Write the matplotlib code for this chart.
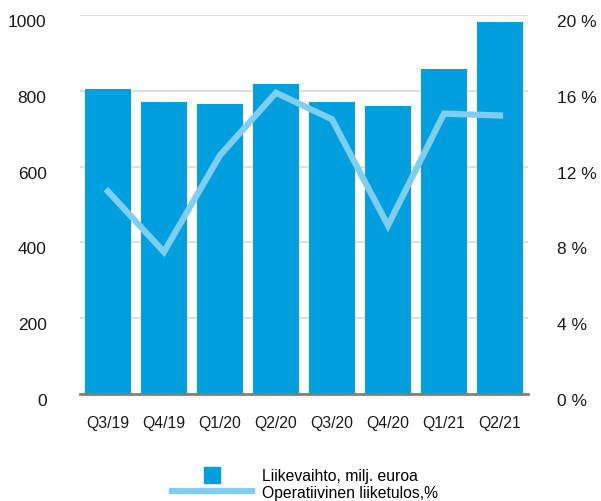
import matplotlib
matplotlib.use("Agg")
import matplotlib.pyplot as plt
from matplotlib.lines import Line2D
from matplotlib.transforms import ScaledTranslation

plt.rcParams['font.family'] = ['Liberation Sans', 'DejaVu Sans']

quarters = ["Q3/19", "Q4/19", "Q1/20", "Q2/20", "Q3/20", "Q4/20", "Q1/21", "Q2/21"]
revenue = [805, 770, 765, 818, 770, 760, 859, 982]
margin_pct = [10.7, 7.5, 12.6, 15.9, 14.5, 8.9, 14.8, 14.7]
left_ticks = [0, 200, 400, 600, 800, 1000]
right_ticks = [0, 4, 8, 12, 16, 20]

bar_color = "#009FDF"
line_color = "#80CEEF"
text_color = "#1a1a1a"

fig = plt.figure(figsize=(6.01, 5.02), dpi=100)
ax = fig.add_axes([0.133, 0.213, 0.7455, 0.755])
ax2 = ax.twinx()

x = list(range(len(quarters)))
ax.bar(x, revenue, width=0.82, color=bar_color, zorder=2)
ax.set_ylim(0, 1000)
ax.set_xlim(-0.5, len(quarters) - 0.5)
ax.set_yticks(left_ticks)
ax.set_yticklabels([str(v) for v in left_ticks])
ax.yaxis.grid(True, color="#D9D9D9", linewidth=1.2, zorder=0)
ax.set_axisbelow(True)
ax.set_xticks(x)
ax.set_xticklabels(quarters, fontsize=11.3)
ax.tick_params(axis='x', length=0, pad=15, colors=text_color)
ax.tick_params(axis='y', length=0, pad=24, labelsize=12.5, colors=text_color)
for s in ["top", "right", "left"]:
    ax.spines[s].set_visible(False)
ax.spines["bottom"].set_color("#808080")
ax.spines["bottom"].set_linewidth(2)
ax.spines["bottom"].set_zorder(5)

ax2.plot(x, margin_pct, color=line_color, linewidth=4.5, solid_joinstyle='miter', zorder=3)
ax2.set_ylim(0, 20)
ax2.set_yticks(right_ticks)
ax2.set_yticklabels([f"{v} %" for v in right_ticks])
ax2.tick_params(axis='y', length=0, pad=21, labelsize=12.5, colors=text_color)
for s in ["top", "right", "left", "bottom"]:
    ax2.spines[s].set_visible(False)

shift = ScaledTranslation(0, -3.5 / 72, fig.dpi_scale_trans)
for lab in ax.get_yticklabels() + ax2.get_yticklabels():
    lab.set_transform(lab.get_transform() + shift)

handles = [
    Line2D([], [], marker='s', linestyle='none', markersize=12.2, color=bar_color),
    Line2D([], [], color=line_color, linewidth=4.5),
]
labels = ["Liikevaihto, milj. euroa", "Operatiivinen liiketulos,%"]
fig.legend(handles, labels, loc='upper left', bbox_to_anchor=(0.276, 0.078),
           frameon=False, fontsize=11.3, handlelength=5.1, handletextpad=0.64,
           labelspacing=0.1, borderaxespad=0)

fig.savefig("out.png", dpi=100)
